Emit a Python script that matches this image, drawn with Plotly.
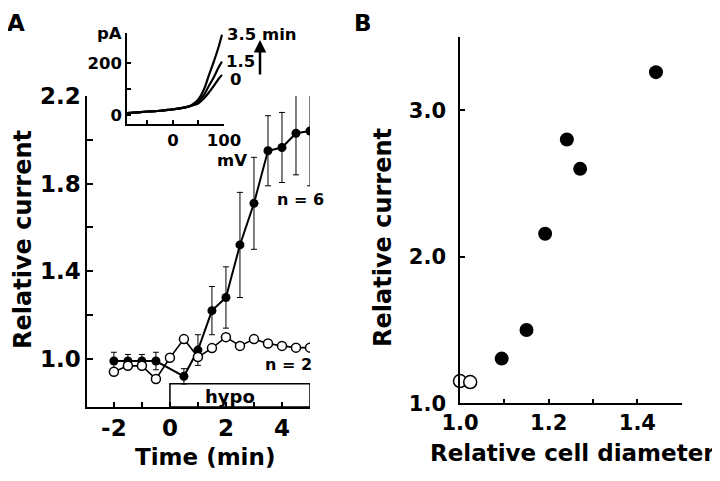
import plotly.graph_objects as go

# ---------------- Data ----------------
# Panel A: relative current vs time
time_filled = [-2, -1.5, -1, -0.5, 0.5, 1, 1.5, 2, 2.5, 3, 3.5, 4, 4.5, 5]
current_filled = [0.99, 0.99, 0.99, 0.99, 0.92, 1.04, 1.22, 1.28, 1.52, 1.71, 1.95, 1.965, 2.03, 2.04]
current_filled_err = [0.04, 0.03, 0.03, 0.04, 0.035, 0.07, 0.11, 0.14, 0.24, 0.21, 0.16, 0.16, 0.19, 0.25]

time_open = [-2, -1.5, -1, -0.5, 0, 0.5, 1, 1.5, 2, 2.5, 3, 3.5, 4, 4.5, 5]
current_open = [0.941, 0.968, 0.968, 0.908, 1.005, 1.09, 1.008, 1.049, 1.099, 1.059, 1.09, 1.07, 1.059, 1.051, 1.051]

hypo_start, hypo_end = 0, 5

# Inset: I-V traces (mV, pA)
inset_mv = [-90, -70, -50, -30, -10, 10, 30, 40, 50, 60, 70, 80, 90, 96]
trace_0 = [7, 10, 13, 15, 19, 24, 32, 37, 45, 62, 85, 112, 140, 154]
trace_15 = [7, 10, 13, 15, 19, 24, 32, 40, 52, 75, 110, 145, 185, 205]
trace_35 = [7, 10, 13, 15, 19, 24, 32, 42, 60, 95, 150, 205, 265, 308]

# Panel B: relative current vs relative cell diameter
diam_filled = [1.094, 1.150, 1.192, 1.241, 1.271, 1.442]
relcur_filled = [1.305, 1.50, 2.157, 2.80, 2.60, 3.26]
diam_open = [1.0, 1.023]
relcur_open = [1.152, 1.145]

# Tick labels
a_xticks = [-2, -1, 0, 1, 2, 3, 4, 5]
a_xticktext = ["-2", "", "0", "", "2", "", "4", ""]
a_yticks = [1.0, 1.2, 1.4, 1.6, 1.8, 2.0, 2.2]
a_yticktext = ["1.0", "", "1.4", "", "1.8", "", "2.2"]
b_xticks = [1.0, 1.1, 1.2, 1.3, 1.4, 1.5]
b_xticktext = ["1.0", "", "1.2", "", "1.4", ""]
b_yticks = [1.0, 2.0, 3.0]
b_yticktext = ["1.0", "2.0", "3.0"]
in_xticks = [-50, 0, 50, 100]
in_xticktext = ["", "0", "", "100"]
in_yticks = [0, 100, 200]
in_yticktext = ["0", "", "200"]

# ---------------- Layout helpers ----------------
# The page body has an 8px margin, so the figure is made 8px smaller
# and page-pixel positions are shifted accordingly.
OFF = 8
W, H = 720 - OFF, 481 - OFF
FONT = "DejaVu Sans"


def px(x):
    return (x - OFF) / W


def py(y):
    return 1 - (y - OFF) / H


fig = go.Figure()

# Panel A traces
fig.add_trace(go.Scatter(
    x=time_filled, y=current_filled, mode="lines+markers",
    line=dict(color="black", width=2),
    marker=dict(symbol="circle", size=9, color="black"),
    error_y=dict(type="data", array=current_filled_err, visible=True,
                 color="black", thickness=1, width=3),
    xaxis="x", yaxis="y", showlegend=False))
fig.add_trace(go.Scatter(
    x=time_open, y=current_open, mode="lines+markers",
    line=dict(color="black", width=1.6),
    marker=dict(symbol="circle", size=9, color="white",
                line=dict(color="black", width=1.5)),
    xaxis="x", yaxis="y", showlegend=False))

# Inset traces
for tr in (trace_0, trace_15, trace_35):
    fig.add_trace(go.Scatter(
        x=inset_mv, y=tr, mode="lines", line=dict(color="black", width=2.2, shape="spline"),
        xaxis="x3", yaxis="y3", showlegend=False))

# Panel B traces
fig.add_trace(go.Scatter(
    x=diam_filled, y=relcur_filled, mode="markers",
    marker=dict(symbol="circle", size=14, color="black"),
    xaxis="x2", yaxis="y2", showlegend=False))
fig.add_trace(go.Scatter(
    x=diam_open, y=relcur_open, mode="markers",
    marker=dict(symbol="circle", size=13, color="white", line=dict(color="black", width=1.5)),
    xaxis="x2", yaxis="y2", showlegend=False, cliponaxis=False))

axis_common = dict(showline=True, linecolor="black", linewidth=1.5, ticks="inside",
                   tickcolor="black", tickwidth=1.5, showgrid=False, zeroline=False,
                   fixedrange=True, automargin=False)

a_yrange = [0.78, 2.2]

fig.update_layout(
    template="none",
    width=W, height=H,
    margin=dict(l=0, r=0, t=0, b=0, pad=0, autoexpand=False),
    paper_bgcolor="white", plot_bgcolor="rgba(0,0,0,0)",
    font=dict(family=FONT, color="black", weight="bold"),
    xaxis=dict(axis_common, domain=[px(87), px(310)], range=[-2.96, 5.0], anchor="y",
               tickmode="array", tickvals=a_xticks, ticktext=a_xticktext, ticklen=5,
               tickfont=dict(size=23, family=FONT, weight="bold")),
    yaxis=dict(axis_common, domain=[py(407), py(96)], range=a_yrange, anchor="x",
               tickmode="array", tickvals=a_yticks, ticktext=a_yticktext, ticklen=6,
               tickfont=dict(size=23, family=FONT, weight="bold")),
    xaxis2=dict(axis_common, domain=[px(460), px(681.7)], range=[1.0, 1.5], anchor="y2",
                tickmode="array", tickvals=b_xticks, ticktext=b_xticktext, ticklen=5,
                tickfont=dict(size=21, family=FONT, weight="bold")),
    yaxis2=dict(axis_common, domain=[py(403.3), py(37)], range=[1.0, 3.5], anchor="x2",
                tickmode="array", tickvals=b_yticks, ticktext=b_yticktext, ticklen=5,
                ticklabelstandoff=8,
                tickfont=dict(size=21, family=FONT, weight="bold")),
    xaxis3=dict(axis_common, domain=[px(127), px(224)], range=[-90, 100], anchor="y3",
                tickmode="array", tickvals=in_xticks, ticktext=in_xticktext, ticklen=4,
                tickfont=dict(size=16.5, family=FONT, weight="bold")),
    yaxis3=dict(axis_common, domain=[py(124), py(33)], range=[-35, 315], anchor="x3",
                tickmode="array", tickvals=in_yticks, ticktext=in_yticktext, ticklen=4,
                tickfont=dict(size=16.5, family=FONT, weight="bold")),
)

# hypo bar
fig.add_shape(type="rect", xref="x", yref="y", x0=hypo_start, x1=hypo_end,
              y0=a_yrange[0], y1=0.886, line=dict(color="black", width=1.5),
              fillcolor="white", layer="below")

ann = []


def text(x, y, s, size, xanchor="center", yanchor="middle", angle=0):
    ann.append(dict(x=px(x), y=py(y), xref="paper", yref="paper", text=s, showarrow=False,
                    xanchor=xanchor, yanchor=yanchor, textangle=angle,
                    font=dict(size=size, family=FONT, color="black", weight="bold")))


text(16, 8, "A", 23, yanchor="top")
text(363, 8, "B", 23, yanchor="top")
text(23, 240, "Relative current", 24, angle=-90)
text(205, 457, "Time (min)", 23)
text(383, 238, "Relative current", 24, angle=-90)
text(572, 453, "Relative cell diameter", 23)
text(230, 396, "hypo", 18)
text(300, 200, "n = 6", 16)
text(288, 364, "n = 2", 16)
text(109, 34, "pA", 16.5)
text(232, 160, "mV", 16.5)
text(225, 35, "3.5 min", 16.5, xanchor="left")
text(224, 62, "1.5", 16.5, xanchor="left")
text(228, 80, "0", 16.5, xanchor="left")

ann.append(dict(x=px(260), y=py(40), xref="paper", yref="paper", ax=0, ay=36,
                axref="pixel", ayref="pixel", showarrow=True, arrowhead=2,
                arrowsize=1, arrowwidth=2.5, arrowcolor="black", text=""))

fig.update_layout(annotations=ann)

fig.write_html("out.html")
